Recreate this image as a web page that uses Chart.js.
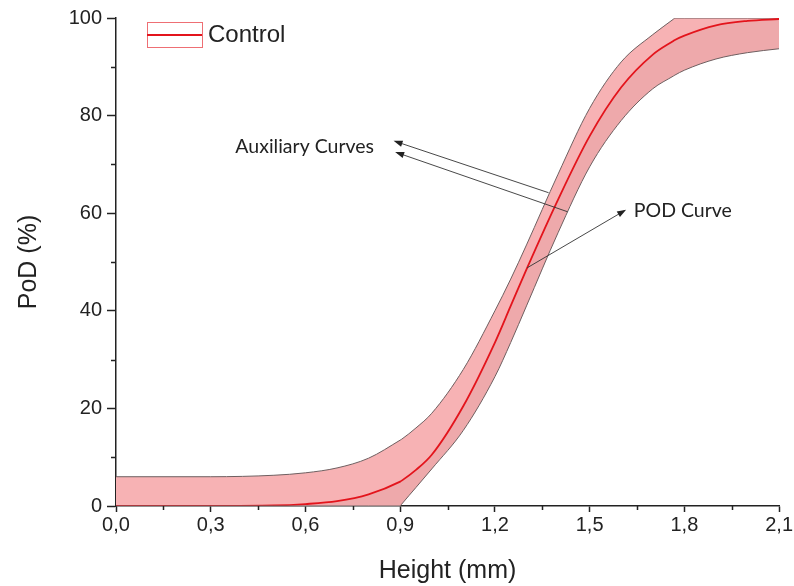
<!DOCTYPE html>
<html>
<head>
<meta charset="utf-8">
<script src="https://cdn.jsdelivr.net/npm/chart.js@4.4.0/dist/chart.umd.min.js"></script>
<style>
  html, body { margin: 0; padding: 0; background: #fff; }
  #wrap { width: 794px; height: 586px; }
</style>
</head>
<body>
<div id="wrap"><canvas id="podChart" width="794" height="586"></canvas></div>
<script>
// flaw height (mm) and probability of detection (%)
const heights  = [0, 0.3, 0.5, 0.6, 0.7, 0.8, 0.9, 0.905, 0.95, 1.0, 1.1, 1.2, 1.25, 1.3, 1.4, 1.5, 1.6, 1.7, 1.765, 1.77, 1.8, 1.9, 2.0, 2.1];
const podCurve = [0, 0, 0.1, 0.4, 1.0, 2.4, 5.0, 5.2, 7.4, 10.5, 20.5, 33.5, 41, 48.5, 62.8, 75.8, 85.8, 92.5, 95.3, 95.5, 96.4, 98.5, 99.4, 99.8];
const podUpper = [6, 6, 6.3, 6.8, 7.8, 9.8, 13.5, 13.7, 16, 19, 28, 40, 46.5, 53.5, 68, 81.5, 91, 96.6, 99.75, 100, 100, 100, 100, 100];
const podLower = [0, 0, 0, 0, 0, 0, 0, 0.4, 3.8, 7.6, 15.5, 26.5, 33.5, 41, 56, 69.5, 79, 85.5, 88.1, 88.3, 89.3, 91.6, 92.9, 93.7];

const xTicks = [0, 0.3, 0.6, 0.9, 1.2, 1.5, 1.8, 2.1];
const xMinor = [0.15, 0.45, 0.75, 1.05, 1.35, 1.65, 1.95];
const yTicks = [0, 20, 40, 60, 80, 100];
const yMinor = [10, 30, 50, 70, 90];

const seriesName = 'Control';

// callouts in data units: text anchor, arrow tails on the curves, arrow tips next to the text
const callouts = [
  { text: 'Auxiliary Curves', at: [0.378, 73.6], arrows: [
      { from: [1.37, 64.2], to: [0.885, 74.7] },
      { from: [1.43, 60.3], to: [0.89, 72.4] } ] },
  { text: 'POD Curve', at: [1.64, 60.6], arrows: [
      { from: [1.302, 48.8], to: [1.61, 60.5] } ] }
];

const ink = '#222';
const red = '#e3141c';
const edge = '#6e5f60';

const pts = vals => heights.map((h, i) => ({ x: h, y: vals[i] }));

const extras = {
  id: 'extras',
  afterDatasetsDraw(chart) {
    const { ctx, scales: { x, y }, chartArea: a } = chart;
    ctx.save();

    // minor ticks
    ctx.strokeStyle = ink;
    ctx.lineWidth = 1.5;
    ctx.beginPath();
    xMinor.forEach(v => {
      const px = Math.round(x.getPixelForValue(v)) + 0.5;
      ctx.moveTo(px, a.bottom);
      ctx.lineTo(px, a.bottom + 4);
    });
    yMinor.forEach(v => {
      const py = Math.round(y.getPixelForValue(v)) + 0.5;
      ctx.moveTo(a.left, py);
      ctx.lineTo(a.left - 5, py);
    });
    ctx.stroke();

    // callouts
    ctx.font = '19.5px Lato';
    ctx.textBaseline = 'middle';
    ctx.textAlign = 'left';
    callouts.forEach(c => {
      ctx.fillStyle = ink;
      ctx.fillText(c.text, x.getPixelForValue(c.at[0]), y.getPixelForValue(c.at[1]));
      c.arrows.forEach(ar => {
        const x0 = x.getPixelForValue(ar.from[0]), y0 = y.getPixelForValue(ar.from[1]);
        const x1 = x.getPixelForValue(ar.to[0]), y1 = y.getPixelForValue(ar.to[1]);
        const ang = Math.atan2(y1 - y0, x1 - x0);
        const c0 = Math.cos(ang), s0 = Math.sin(ang);
        ctx.strokeStyle = '#333';
        ctx.lineWidth = 0.9;
        ctx.beginPath();
        ctx.moveTo(x0, y0);
        ctx.lineTo(x1, y1);
        ctx.stroke();
        ctx.beginPath();
        ctx.moveTo(x1 + 2 * c0, y1 + 2 * s0);
        ctx.lineTo(x1 - 7 * c0 + 3.2 * s0, y1 - 7 * s0 - 3.2 * c0);
        ctx.lineTo(x1 - 7 * c0 - 3.2 * s0, y1 - 7 * s0 + 3.2 * c0);
        ctx.closePath();
        ctx.fillStyle = '#222';
        ctx.fill();
      });
    });

    // legend in the top left corner of the plot
    const bx = a.left + 31, by = a.top + 4, bw = 55, bh = 25;
    ctx.fillStyle = '#fff';
    ctx.fillRect(bx, by, bw, bh);
    ctx.strokeStyle = '#ee6f74';
    ctx.lineWidth = 1;
    ctx.strokeRect(bx + 0.5, by + 0.5, bw, bh);
    ctx.strokeStyle = red;
    ctx.lineWidth = 2;
    ctx.beginPath();
    ctx.moveTo(bx, by + bh / 2 + 0.5);
    ctx.lineTo(bx + bw, by + bh / 2 + 0.5);
    ctx.stroke();
    ctx.fillStyle = ink;
    ctx.font = '24px "Liberation Sans", Arial, sans-serif';
    ctx.fillText(seriesName, bx + bw + 6, by + bh / 2 + 1);

    ctx.restore();
  }
};

const axisFont = { family: '"Liberation Sans", Arial, sans-serif', size: 20 };
const titleFont = { family: '"Liberation Sans", Arial, sans-serif', size: 25 };

new Chart(document.getElementById('podChart'), {
  type: 'line',
  data: {
    datasets: [
      {
        label: 'lower',
        data: pts(podLower),
        borderColor: edge,
        borderWidth: 1,
        pointRadius: 0,
        fill: false,
        cubicInterpolationMode: 'monotone'
      },
      {
        label: seriesName,
        data: pts(podCurve),
        borderColor: red,
        borderWidth: 1.8,
        pointRadius: 0,
        backgroundColor: 'rgb(238, 169, 171)',
        fill: { target: 0 },
        cubicInterpolationMode: 'monotone'
      },
      {
        label: 'upper',
        data: pts(podUpper),
        borderColor: edge,
        borderWidth: 1,
        pointRadius: 0,
        backgroundColor: 'rgb(247, 178, 180)',
        fill: { target: 1 },
        cubicInterpolationMode: 'monotone'
      }
    ]
  },
  options: {
    responsive: false,
    animation: false,
    devicePixelRatio: 1,
    layout: { padding: { top: 18, right: 13, left: 0, bottom: 0 } },
    plugins: {
      legend: { display: false },
      tooltip: { enabled: false }
    },
    scales: {
      x: {
        type: 'linear',
        min: 0,
        max: 2.1,
        afterBuildTicks: s => { s.ticks = xTicks.map(v => ({ value: v })); },
        afterFit: s => { s.height = 80; },
        ticks: {
          autoSkip: false,
          maxRotation: 0,
          padding: 1,
          color: ink,
          font: axisFont,
          callback: v => v.toFixed(1).replace('.', ',')
        },
        grid: { drawOnChartArea: false, tickLength: 6, tickColor: ink, tickWidth: 1.5 },
        border: { color: ink, width: 1.5 },
        title: { display: true, text: 'Height (mm)', color: ink, font: titleFont, padding: { top: 2, bottom: 0 } }
      },
      y: {
        min: 0,
        max: 100,
        afterBuildTicks: s => { s.ticks = yTicks.map(v => ({ value: v })); },
        afterFit: s => { s.width = 116; },
        ticks: { padding: 5, color: ink, font: axisFont },
        grid: { drawOnChartArea: false, tickLength: 9, tickColor: ink, tickWidth: 1.5 },
        border: { color: ink, width: 1.5 },
        title: { display: true, text: 'PoD (%)', color: ink, font: titleFont, padding: { top: 14, bottom: 0 } }
      }
    }
  },
  plugins: [extras]
});
</script>
</body>
</html>
